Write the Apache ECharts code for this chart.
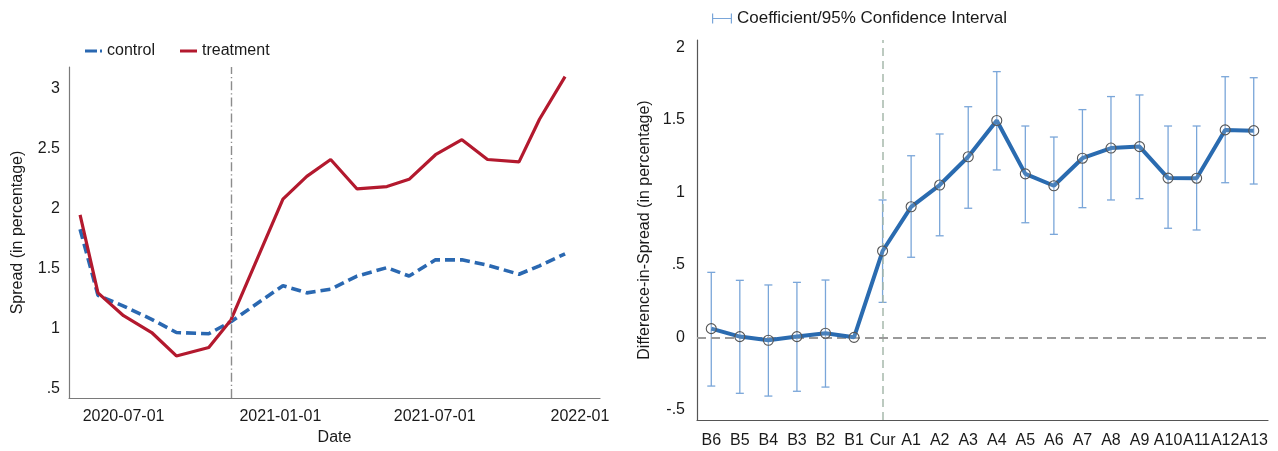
<!DOCTYPE html>
<html>
<head>
<meta charset="utf-8">
<script src="https://cdn.jsdelivr.net/npm/echarts@6/dist/echarts.min.js"></script>
<style>
  html, body { margin: 0; padding: 0; background: #fff; }
  #chart { width: 1278px; height: 451px; }
</style>
</head>
<body>
<div id="chart"></div>
<script>
// Left panel: monthly average spread, control vs. treatment
const dates = ['2020-05-11', '2020-06-01', '2020-07-01', '2020-08-03', '2020-09-01', '2020-10-09',
  '2020-11-04', '2021-01-04', '2021-02-01', '2021-03-01', '2021-04-01', '2021-05-06', '2021-06-01',
  '2021-07-02', '2021-08-02', '2021-09-01', '2021-10-08', '2021-11-01', '2021-12-01'];
const control = [1.83, 1.28, 1.19, 1.08, 0.97, 0.96, 1.06, 1.36, 1.30, 1.33, 1.44, 1.51, 1.44,
  1.575, 1.575, 1.53, 1.455, 1.525, 1.625];
const treatment = [1.95, 1.30, 1.11, 0.97, 0.775, 0.845, 1.075, 2.08, 2.27, 2.41, 2.165, 2.185, 2.245,
  2.45, 2.575, 2.41, 2.39, 2.745, 3.10];
const eventDate = '2020-11-04';
const dateTicks = ['2020-07-01', '2021-01-01', '2021-07-01', '2022-01-01'];
const spreadTicks = [0.5, 1, 1.5, 2, 2.5, 3];

// Right panel: event-study coefficients with 95% confidence intervals
const periods = ['B6', 'B5', 'B4', 'B3', 'B2', 'B1', 'Cur', 'A1', 'A2', 'A3', 'A4', 'A5', 'A6',
  'A7', 'A8', 'A9', 'A10', 'A11', 'A12', 'A13'];
const coef = [0.06, 0.005, -0.02, 0.005, 0.028, 0, 0.595, 0.90, 1.05, 1.245, 1.495, 1.127, 1.045,
  1.235, 1.305, 1.315, 1.098, 1.097, 1.43, 1.425];
const ciLow = [-0.336, -0.386, -0.405, -0.372, -0.343, null, 0.241, 0.552, 0.70, 0.89, 1.154, 0.79, 0.71,
  0.894, 0.947, 0.956, 0.752, 0.74, 1.066, 1.057];
const ciHigh = [0.448, 0.393, 0.361, 0.379, 0.395, null, 0.947, 1.252, 1.402, 1.59, 1.832, 1.457, 1.381,
  1.57, 1.66, 1.671, 1.457, 1.457, 1.797, 1.79];
const coefTicks = [-0.5, 0, 0.5, 1, 1.5, 2];

const FONT = 'Arial, "Liberation Sans", sans-serif';
const TXT = '#1a1a1a';
const BLUE = '#2a68b1';
const RED = '#b3192e';

const ts = d => Date.parse(d + 'T00:00:00Z');
function shortNum(v) {
  // Stata-style labels: drop the leading zero (".5", "-.5")
  return String(v).replace(/^(-?)0\./, '$1.');
}
function ymd(v) {
  const d = new Date(v);
  const p = n => String(n).padStart(2, '0');
  return d.getUTCFullYear() + '-' + p(d.getUTCMonth() + 1) + '-' + p(d.getUTCDate());
}

const ciData = [];
periods.forEach((p, i) => {
  if (ciLow[i] != null) ciData.push([i, ciLow[i], ciHigh[i]]);
});

const chart = echarts.init(document.getElementById('chart'), null, { renderer: 'canvas' });

chart.setOption({
  animation: false,
  backgroundColor: '#ffffff',
  textStyle: { fontFamily: FONT, color: TXT },
  legend: [
    {
      data: [
        { name: 'control', icon: 'path://M0,3.5h12v3h-12z M15,3.5h2v3h-2z', itemStyle: { color: BLUE } },
        { name: 'treatment', icon: 'path://M0,3.5h17v3h-17z', itemStyle: { color: RED } }
      ],
      left: 80, top: 38,
      itemWidth: 17, itemHeight: 10, itemGap: 25,
      textStyle: { fontFamily: FONT, fontSize: 16, color: TXT }
    },
    {
      data: [{
        name: 'Coefficient/95% Confidence Interval',
        icon: 'path://M0,0h1.2v10h-1.2z M1.2,4.4h17.6v1.2h-17.6z M18.8,0h1.2v10h-1.2z'
      }],
      left: 707, top: 5,
      itemWidth: 20, itemHeight: 10, itemGap: 10,
      textStyle: { fontFamily: FONT, fontSize: 17, color: TXT }
    }
  ],
  grid: [
    { left: 69, right: 678, top: 67, bottom: 53 },
    { left: 697, right: 10, top: 40, bottom: 31 }
  ],
  xAxis: [
    {
      type: 'value', gridIndex: 0,
      min: ts('2020-04-28'), max: ts('2022-01-11'),
      name: 'Date', nameLocation: 'middle', nameGap: 31,
      nameTextStyle: { fontFamily: FONT, fontSize: 16, color: TXT },
      axisLine: { onZero: false, lineStyle: { color: '#7a7a7a', width: 1.2 } },
      axisTick: { show: false },
      splitLine: { show: false },
      axisLabel: {
        customValues: dateTicks.map(ts),
        formatter: v => ymd(v),
        fontFamily: FONT, fontSize: 16, color: TXT, margin: 11,
        hideOverlap: false
      }
    },
    {
      type: 'category', gridIndex: 1, data: periods, boundaryGap: true,
      axisLine: { onZero: false, lineStyle: { color: '#555', width: 1.2 } },
      axisTick: { show: false },
      splitLine: { show: false },
      axisLabel: { interval: 0, fontFamily: FONT, fontSize: 16, color: TXT, margin: 13, hideOverlap: false }
    }
  ],
  yAxis: [
    {
      type: 'value', gridIndex: 0, min: 0.425, max: 3.18,
      name: 'Spread (in percentage)', nameLocation: 'middle', nameGap: 43,
      nameTextStyle: { fontFamily: FONT, fontSize: 16, color: TXT },
      axisLine: { show: true, onZero: false, lineStyle: { color: '#7a7a7a', width: 1.2 } },
      axisTick: { show: false },
      splitLine: { show: false },
      axisLabel: {
        customValues: spreadTicks,
        formatter: v => shortNum(v),
        fontFamily: FONT, fontSize: 16, color: TXT, margin: 9
      }
    },
    {
      type: 'value', gridIndex: 1, min: -0.57, max: 2.05,
      name: 'Difference-in-Spread (in percentage)', nameLocation: 'middle', nameGap: 44,
      nameTextStyle: { fontFamily: FONT, fontSize: 16, color: TXT },
      axisLine: { show: true, onZero: false, lineStyle: { color: '#555', width: 1.2 } },
      axisTick: { show: false },
      splitLine: { show: false },
      axisLabel: {
        customValues: coefTicks,
        formatter: v => shortNum(v),
        fontFamily: FONT, fontSize: 16, color: TXT, margin: 12
      }
    }
  ],
  series: [
    {
      name: 'control', type: 'line', xAxisIndex: 0, yAxisIndex: 0,
      data: dates.map((d, i) => [ts(d), control[i]]),
      symbol: 'none', z: 3,
      itemStyle: { color: BLUE },
      lineStyle: { color: BLUE, width: 3.6, type: [10, 5] }
    },
    {
      name: 'treatment', type: 'line', xAxisIndex: 0, yAxisIndex: 0,
      data: dates.map((d, i) => [ts(d), treatment[i]]),
      symbol: 'none', z: 4,
      itemStyle: { color: RED },
      lineStyle: { color: RED, width: 3.2 },
      markLine: {
        silent: true, symbol: 'none', label: { show: false },
        lineStyle: { color: '#8c8c8c', width: 1.4, type: [9, 3, 1.2, 3] },
        data: [{ xAxis: ts(eventDate) }]
      }
    },
    {
      name: 'Coefficient/95% Confidence Interval', type: 'custom', xAxisIndex: 1, yAxisIndex: 1,
      data: ciData, encode: { x: 0, y: [1, 2] }, z: 3,
      itemStyle: { color: '#7aa6d9' },
      renderItem: function (params, api) {
        const lo = api.coord([api.value(0), api.value(1)]);
        const hi = api.coord([api.value(0), api.value(2)]);
        const cap = 4;
        const style = { stroke: '#7aa6d9', lineWidth: 1.3, fill: null };
        return {
          type: 'group',
          children: [
            { type: 'line', shape: { x1: lo[0], y1: lo[1], x2: hi[0], y2: hi[1] }, style: style },
            { type: 'line', shape: { x1: lo[0] - cap, y1: lo[1], x2: lo[0] + cap, y2: lo[1] }, style: style },
            { type: 'line', shape: { x1: hi[0] - cap, y1: hi[1], x2: hi[0] + cap, y2: hi[1] }, style: style }
          ]
        };
      }
    },
    {
      name: 'coefficient', type: 'line', xAxisIndex: 1, yAxisIndex: 1,
      data: coef, z: 5,
      symbol: 'circle', symbolSize: 10,
      itemStyle: { color: 'rgba(255,255,255,0.15)', borderColor: '#555', borderWidth: 1.1 },
      lineStyle: { color: '#2a6bb0', width: 4 },
      markLine: {
        silent: true, symbol: 'none', label: { show: false },
        data: [
          { xAxis: 'Cur', lineStyle: { color: '#a6b9ac', width: 1.5, type: [8, 5] } },
          { yAxis: 0, lineStyle: { color: '#9a9a9a', width: 2, type: [9, 5] } }
        ]
      }
    }
  ],
  graphic: [
    // the left panel ends at its right border; the last date label runs past it
    { type: 'rect', shape: { x: 610, y: 403, width: 22, height: 28 }, style: { fill: '#ffffff' }, z: 100 }
  ]
});
</script>
</body>
</html>
